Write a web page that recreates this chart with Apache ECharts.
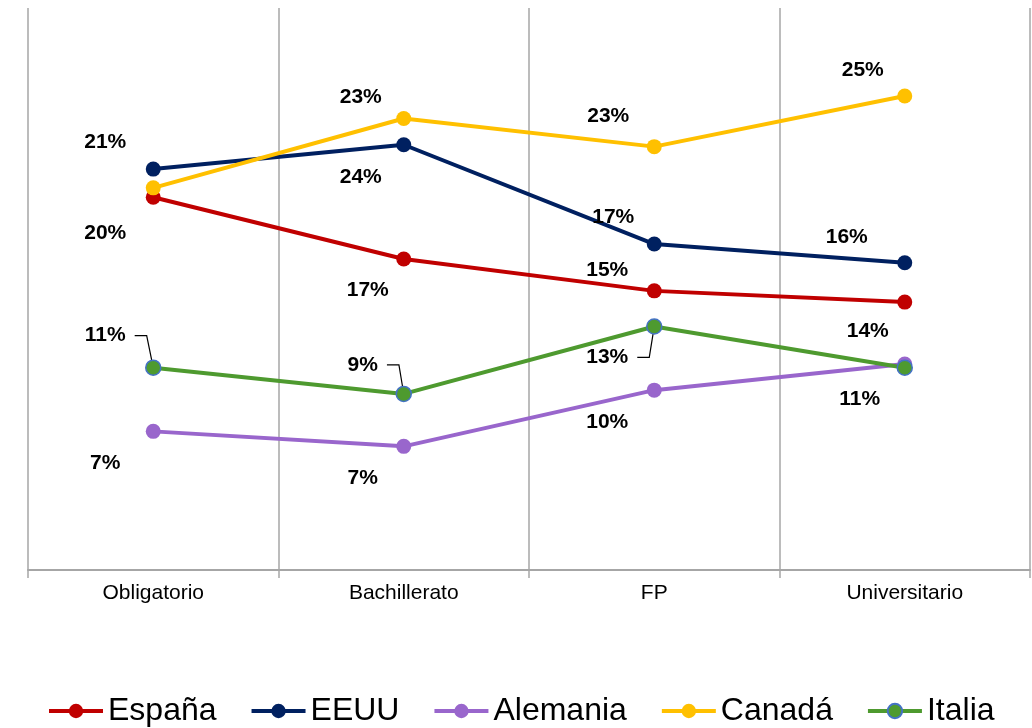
<!DOCTYPE html>
<html>
<head>
<meta charset="utf-8">
<script src="https://cdn.jsdelivr.net/npm/echarts@6/dist/echarts.min.js"></script>
<style>
html,body{margin:0;padding:0;background:#fff;}
#chart{width:1032px;height:728px;}
</style>
</head>
<body>
<div id="chart"></div>
<script>
// ---- data ----
var categories = ['Obligatorio', 'Bachillerato', 'FP', 'Universitario'];
var seriesNames = ['España', 'EEUU', 'Alemania', 'Canadá', 'Italia'];
var espana   = [19.9, 16.6, 14.9, 14.3];
var eeuu     = [21.4, 22.7, 17.4, 16.4];
var alemania = [7.4, 6.6, 9.6, 11.0];
var canada   = [20.4, 24.1, 22.6, 25.3];
var italia   = [10.8, 9.4, 13.0, 10.8];
// which points carry a visible data label
var espanaLabels   = [true, true, true, true];
var eeuuLabels     = [true, true, true, true];
var alemaniaLabels = [true, true, true, false];
var canadaLabels   = [false, true, true, true];
var italiaLabels   = [true, true, true, true];

// ---- styling ----
var FONT = '"Liberation Sans", Arial, sans-serif';
var colors = ['#C00000', '#002060', '#9966CC', '#FFC000', '#4E9A2F'];
// label offsets (dx, dy) from the point centre, per series per category
var labelOffsets = [
  [[-48, 36], [-36, 31], [-47, -21], [-37, 29]],
  [[-48, -27], [-43, -48], [-41, -27], [-58, -26]],
  [[-48, 32], [-41, 32], [-47, 32], [0, 0]],
  [[0, 0], [-43, 59], [-46, -30], [-42, -26]],
  [[-48, -32], [-41, -29], [-47, 31], [-45, 32]]
];
// leader lines (only some Italia labels)
var leaderFlags = [
  [false, false, false, false],
  [false, false, false, false],
  [false, false, false, false],
  [false, false, false, false],
  [true, true, true, false]
];

var values = [espana, eeuu, alemania, canada, italia];
var labelFlags = [espanaLabels, eeuuLabels, alemaniaLabels, canadaLabels, italiaLabels];

var series = seriesNames.map(function (name, si) {
  var isItalia = si === 4;
  var lbl = {
    show: true,
    position: 'inside',
    formatter: function (p) { return Math.round(p.value) + '%'; },
    fontFamily: FONT,
    fontSize: 21,
    fontWeight: 'bold',
    color: '#000'
  };
  if (isItalia) {
    lbl.padding = [0, 9, 0, 9];
    lbl.backgroundColor = 'rgba(255,255,255,0)';
  }
  return {
    name: name,
    type: 'line',
    data: values[si].map(function (v, i) {
      return {
        value: v,
        label: { show: labelFlags[si][i] },
        labelLine: { show: leaderFlags[si][i] }
      };
    }),
    symbol: 'circle',
    symbolSize: 15,
    lineStyle: { color: colors[si], width: 4 },
    itemStyle: {
      color: colors[si],
      borderColor: isItalia ? '#4472C4' : colors[si],
      borderWidth: isItalia ? 1.5 : 0
    },
    label: lbl,
    labelLine: {
      show: false,
      length2: 12,
      lineStyle: { color: '#000', width: 1.2 }
    },
    labelLayout: function (params) {
      var o = labelOffsets[params.seriesIndex][params.dataIndex];
      return { dx: o[0], dy: o[1] };
    },
    emphasis: { disabled: true },
    animation: false,
    z: 2 + si
  };
});

var chart = echarts.init(document.getElementById('chart'), null, { renderer: 'canvas' });
chart.setOption({
  animation: false,
  backgroundColor: '#fff',
  textStyle: { fontFamily: FONT },
  grid: { left: 28, right: 2, top: 8, bottom: 158, containLabel: false },
  legend: {
    top: 690,
    left: 42,
    itemWidth: 54,
    itemHeight: 18,
    itemGap: 33,
    lineStyle: { width: 4 },
    textStyle: { fontFamily: FONT, fontSize: 32, color: '#000' },
    data: seriesNames
  },
  xAxis: {
    type: 'category',
    data: categories,
    boundaryGap: true,
    axisLine: { lineStyle: { color: '#A6A6A6', width: 2 } },
    axisTick: { show: true, length: 8, lineStyle: { color: '#A6A6A6', width: 1.5 } },
    axisLabel: { fontFamily: FONT, fontSize: 21, color: '#000', margin: 13 },
    splitLine: { show: true, lineStyle: { color: '#A6A6A6', width: 1.5 } }
  },
  yAxis: {
    type: 'value',
    min: 0,
    max: 30,
    show: false,
    splitLine: { show: false }
  },
  series: series
});
</script>
</body>
</html>
